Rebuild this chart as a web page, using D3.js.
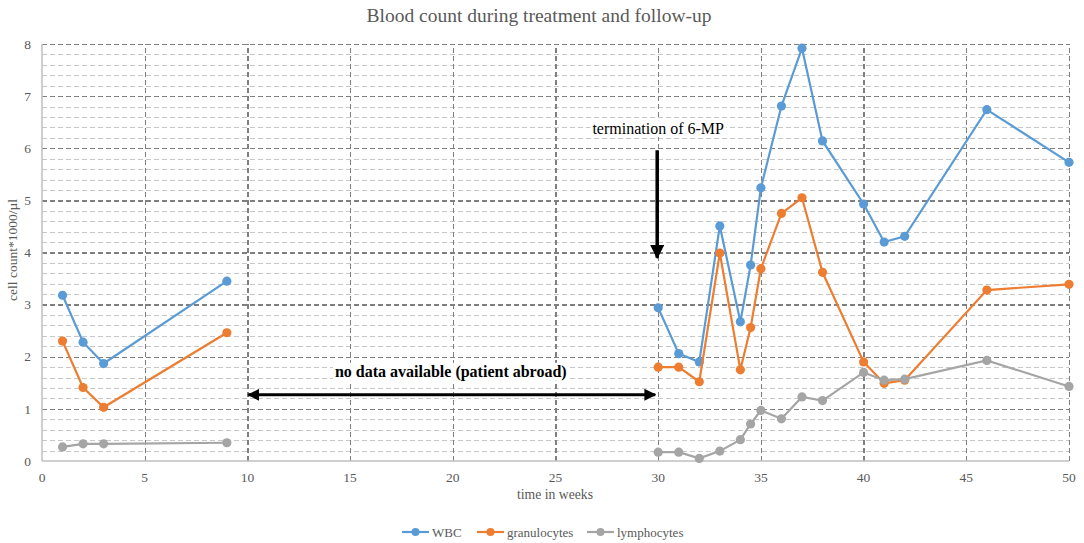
<!DOCTYPE html>
<html>
<head>
<meta charset="utf-8">
<script src="https://cdn.jsdelivr.net/npm/d3@7/dist/d3.min.js"></script>
<style>
    body { margin: 0; background: white; }
    svg { display: block; font-family: "Liberation Serif", "Times New Roman", serif; }
    .grid line { shape-rendering: crispEdges; }
    .grid path { display: none; }
</style>
</head>
<body>
<svg id="chart"></svg>
<script>
    // values
    const weeks = [1, 2, 3, 9, 30, 31, 32, 33, 34, 34.5, 35, 36, 37, 38, 40, 41, 42, 46, 50];
    const wbc = [3.18, 2.28, 1.87, 3.45, 2.94, 2.06, 1.90, 4.51, 2.67, 3.76, 5.24, 6.81, 7.92, 6.14, 4.93, 4.20, 4.31, 6.74, 5.73];
    const granulocytes = [2.30, 1.41, 1.03, 2.46, 1.80, 1.80, 1.52, 3.99, 1.75, 2.56, 3.69, 4.75, 5.05, 3.62, 1.90, 1.49, 1.55, 3.28, 3.39];
    const lymphocytes = [0.27, 0.33, 0.33, 0.35, 0.17, 0.17, 0.05, 0.19, 0.41, 0.71, 0.97, 0.81, 1.23, 1.16, 1.70, 1.55, 1.57, 1.93, 1.43];
    const lastWeekBeforeGap = 9;   // nothing measured between week 9 and week 30

    const seriesNames = ["WBC", "granulocytes", "lymphocytes"];
    const seriesColors = ["#5b9bd5", "#ed7d31", "#a5a5a5"];
    const xTicks = [0, 5, 10, 15, 20, 25, 30, 35, 40, 45, 50];
    const yTicks = [0, 1, 2, 3, 4, 5, 6, 7, 8];

    const gapArrow = { from: 10, to: 30, y: 1.27, label: "no data available (patient abroad)" };
    const stopArrow = { week: 30, from: 6.0, to: 3.9, label: "termination of 6-MP" };

    const width = 1084, height = 543;
    const margin = { top: 44, right: 15, bottom: 82, left: 42 };

    const svg = d3.select("#chart").attr("width", width).attr("height", height);

    const x = d3.scaleLinear().domain([0, 50]).range([margin.left, width - margin.right]);
    const y = d3.scaleLinear().domain([0, 8]).range([height - margin.bottom, margin.top]);

    // arrow heads
    const defs = svg.append("defs");
    defs.append("marker")
        .attr("id", "head")
        .attr("viewBox", "0 0 10 10")
        .attr("refX", 9).attr("refY", 5)
        .attr("markerWidth", 4).attr("markerHeight", 4)
        .attr("markerUnits", "strokeWidth")
        .attr("orient", "auto-start-reverse")
        .append("path").attr("d", "M0,0 L10,5 L0,10 Z").attr("fill", "black");

    // minor horizontal grid (every 0.2)
    svg.append("g").attr("class", "grid")
        .attr("transform", `translate(${margin.left},0)`)
        .call(d3.axisLeft(y).tickValues(d3.range(0.2, 8, 0.2).filter(v => Math.abs(v - Math.round(v)) > 0.01))
            .tickSize(-(width - margin.left - margin.right)).tickFormat(""))
        .selectAll("line")
        .attr("stroke", "#c8c8c8").attr("stroke-width", 1).attr("stroke-dasharray", "5,3");

    // major horizontal grid
    svg.append("g").attr("class", "grid")
        .attr("transform", `translate(${margin.left},0)`)
        .call(d3.axisLeft(y).tickValues(yTicks.slice(1)).tickSize(-(width - margin.left - margin.right)).tickFormat(""))
        .selectAll("line")
        .attr("stroke", "#7f7f7f").attr("stroke-width", 1.3).attr("stroke-dasharray", "5,3");

    // vertical grid
    svg.append("g").attr("class", "grid")
        .attr("transform", `translate(0,${height - margin.bottom})`)
        .call(d3.axisBottom(x).tickValues(xTicks.slice(1)).tickSize(-(height - margin.top - margin.bottom)).tickFormat(""))
        .selectAll("line")
        .attr("stroke", "#7f7f7f").attr("stroke-width", 1.3).attr("stroke-dasharray", "5,3");

    // axis lines
    svg.append("line")
        .attr("x1", x(0)).attr("x2", x(0)).attr("y1", y(0)).attr("y2", y(8))
        .attr("stroke", "#bfbfbf").attr("stroke-width", 1.5);
    svg.append("line")
        .attr("x1", x(0)).attr("x2", x(50)).attr("y1", y(0)).attr("y2", y(0))
        .attr("stroke", "#bfbfbf").attr("stroke-width", 1.5);

    // tick labels
    svg.append("g").selectAll("text").data(yTicks).enter().append("text")
        .attr("x", x(0) - 11).attr("y", d => y(d)).attr("dy", "0.35em")
        .attr("text-anchor", "end").attr("font-size", 13.5).attr("fill", "#595959")
        .text(d => d);
    svg.append("g").selectAll("text").data(xTicks).enter().append("text")
        .attr("x", d => x(d)).attr("y", y(0) + 21)
        .attr("text-anchor", "middle").attr("font-size", 13.5).attr("fill", "#595959")
        .text(d => d);

    // titles
    svg.append("text").attr("x", 539).attr("y", 22)
        .attr("text-anchor", "middle").attr("font-size", 19.5).attr("fill", "#595959")
        .text("Blood count during treatment and follow-up");
    svg.append("text").attr("x", 555).attr("y", 499)
        .attr("text-anchor", "middle").attr("font-size", 13.7).attr("fill", "#595959")
        .text("time in weeks");
    svg.append("text").attr("transform", "translate(17,250) rotate(-90)")
        .attr("text-anchor", "middle").attr("font-size", 13.5).attr("fill", "#595959")
        .text("cell count*1000/µl");

    // annotations
    function labelWithBox(tx, ty, text, bold) {
        const g = svg.append("g");
        const t = g.append("text").attr("x", tx).attr("y", ty)
            .attr("text-anchor", "middle").attr("font-size", 16).attr("fill", "black")
            .attr("font-weight", bold ? "bold" : "normal")
            .text(text);
        const b = t.node().getBBox();
        g.insert("rect", "text")
            .attr("x", b.x - 2).attr("y", b.y).attr("width", b.width + 4).attr("height", b.height)
            .attr("fill", "white");
    }

    labelWithBox((x(gapArrow.from) + x(gapArrow.to)) / 2 - 2, y(gapArrow.y) - 18, gapArrow.label, true);
    svg.append("line")
        .attr("x1", x(gapArrow.from) + 1).attr("x2", x(gapArrow.to) - 3)
        .attr("y1", y(gapArrow.y)).attr("y2", y(gapArrow.y))
        .attr("stroke", "black").attr("stroke-width", 3)
        .attr("marker-start", "url(#head)").attr("marker-end", "url(#head)");

    labelWithBox(x(stopArrow.week), y(stopArrow.from) - 14, stopArrow.label, false);
    svg.append("line")
        .attr("x1", x(stopArrow.week) - 1).attr("x2", x(stopArrow.week) - 1)
        .attr("y1", y(stopArrow.from) + 2).attr("y2", y(stopArrow.to))
        .attr("stroke", "black").attr("stroke-width", 3.5)
        .attr("marker-end", "url(#head)");

    // series
    const allValues = [wbc, granulocytes, lymphocytes];
    const line = d3.line().x(d => x(d.week)).y(d => y(d.value));

    allValues.forEach((values, i) => {
        const pts = weeks.map((w, j) => ({ week: w, value: values[j] }));
        const segments = [pts.filter(p => p.week <= lastWeekBeforeGap), pts.filter(p => p.week > lastWeekBeforeGap)];
        const g = svg.append("g");
        g.selectAll("path").data(segments).enter().append("path")
            .attr("d", line).attr("fill", "none")
            .attr("stroke", seriesColors[i]).attr("stroke-width", 2.2);
        g.selectAll("circle").data(pts).enter().append("circle")
            .attr("cx", d => x(d.week)).attr("cy", d => y(d.value)).attr("r", 4.6)
            .attr("fill", seriesColors[i]);
    });

    // legend
    const legendX = [402, 477, 587];
    const legend = svg.append("g").selectAll("g").data(seriesNames).enter().append("g")
        .attr("transform", (d, i) => `translate(${legendX[i]},532)`);
    legend.append("line").attr("x1", 0).attr("x2", 27)
        .attr("stroke", (d, i) => seriesColors[i]).attr("stroke-width", 2.2);
    legend.append("circle").attr("cx", 13.5).attr("r", 4)
        .attr("fill", (d, i) => seriesColors[i]);
    legend.append("text").attr("x", 30).attr("dy", "0.35em")
        .attr("font-size", 13).attr("fill", "#595959")
        .text(d => d);
</script>
</body>
</html>
